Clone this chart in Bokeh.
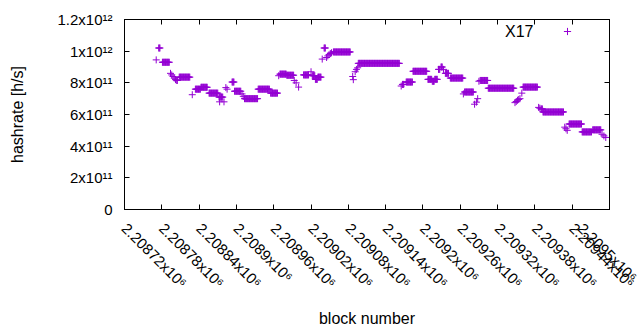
import numpy as np
from bokeh.plotting import figure
from bokeh.models import (Range1d, FixedTicker, LinearAxis, CustomJSTickFormatter,
                          Label, Legend, LegendItem, ColumnDataSource)
from bokeh.embed import file_html
from bokeh.resources import INLINE

# ---- data: runs of blocks with the same hashrate (start block, end block, value) ----
run_start = [2208771, 2208775, 2208781, 2208794, 2208796, 2208798, 2208800, 2208802, 2208804, 2208808,
             2208829, 2208834, 2208843, 2208856, 2208872, 2208873, 2208880, 2208883, 2208885, 2208893,
             2208897, 2208909, 2208911, 2208913, 2208935, 2208955, 2208968, 2208970, 2208981, 2208993,
             2208996, 2209000, 2209008, 2209020, 2209022, 2209027, 2209031, 2209038, 2209041, 2209045,
             2209047, 2209049, 2209051, 2209053, 2209056, 2209087, 2209088, 2209091, 2209093, 2209095,
             2209096, 2209165, 2209167, 2209173, 2209184, 2209208, 2209215, 2209219, 2209225, 2209229,
             2209233, 2209236, 2209244, 2209265, 2209267, 2209283, 2209286, 2209288, 2209290, 2209292,
             2209305, 2209348, 2209350, 2209352, 2209354, 2209356, 2209359, 2209361, 2209386, 2209388,
             2209390, 2209393, 2209428, 2209430, 2209432, 2209435, 2209456, 2209473, 2209488, 2209491,
             2209494]
run_end = [2208771, 2208777, 2208792, 2208794, 2208796, 2208798, 2208800, 2208802, 2208805, 2208825,
           2208829, 2208842, 2208853, 2208870, 2208878, 2208873, 2208880, 2208883, 2208885, 2208896,
           2208907, 2208909, 2208911, 2208934, 2208953, 2208966, 2208968, 2208980, 2208992, 2208993,
           2208996, 2209000, 2209016, 2209020, 2209026, 2209030, 2209036, 2209038, 2209043, 2209045,
           2209047, 2209049, 2209051, 2209053, 2209083, 2209087, 2209088, 2209091, 2209093, 2209095,
           2209162, 2209165, 2209169, 2209183, 2209206, 2209214, 2209218, 2209223, 2209227, 2209231,
           2209233, 2209241, 2209264, 2209265, 2209281, 2209283, 2209286, 2209288, 2209290, 2209304,
           2209346, 2209348, 2209350, 2209352, 2209354, 2209356, 2209359, 2209384, 2209386, 2209388,
           2209392, 2209426, 2209428, 2209430, 2209432, 2209455, 2209471, 2209486, 2209488, 2209491,
           2209494]
run_value = [9.45e11, 1.02e12, 9.30e11, 8.60e11, 8.50e11, 8.40e11, 8.30e11, 8.20e11, 8.15e11, 8.36e11,
             7.25e11, 7.60e11, 7.72e11, 7.35e11, 7.10e11, 6.80e11, 6.80e11, 7.70e11, 7.60e11, 8.05e11,
             7.47e11, 7.30e11, 7.15e11, 7.00e11, 7.60e11, 7.35e11, 8.45e11, 8.55e11, 8.48e11, 8.15e11,
             8.00e11, 7.73e11, 8.50e11, 8.70e11, 8.45e11, 8.22e11, 8.36e11, 9.50e11, 1.02e12, 9.60e11,
             9.70e11, 9.78e11, 9.85e11, 9.90e11, 9.95e11, 8.40e11, 8.20e11, 8.70e11, 8.85e11, 8.95e11,
             9.23e11, 7.80e11, 7.90e11, 8.05e11, 8.73e11, 8.22e11, 8.10e11, 8.22e11, 8.85e11, 9.00e11,
             8.85e11, 8.60e11, 8.30e11, 7.30e11, 7.42e11, 6.65e11, 6.78e11, 7.00e11, 8.10e11, 8.15e11,
             7.66e11, 6.75e11, 6.82e11, 6.90e11, 6.95e11, 7.00e11, 7.35e11, 7.73e11, 6.45e11, 6.40e11,
             6.35e11, 6.16e11, 5.20e11, 5.10e11, 5.00e11, 5.40e11, 4.90e11, 5.03e11, 4.75e11, 4.65e11,
             4.55e11]

x_ticks = [2208720, 2208780, 2208840, 2208900, 2208960, 2209020, 2209080,
           2209140, 2209200, 2209260, 2209320, 2209380, 2209440, 2209500]
x_tick_labels = ["2.20872x10\u2076", "2.20878x10\u2076", "2.20884x10\u2076", "2.2089x10\u2076",
                 "2.20896x10\u2076", "2.20902x10\u2076", "2.20908x10\u2076", "2.20914x10\u2076",
                 "2.2092x10\u2076", "2.20926x10\u2076", "2.20932x10\u2076", "2.20938x10\u2076",
                 "2.20944x10\u2076", "2.2095x10\u2076"]
y_ticks = [0, 2e11, 4e11, 6e11, 8e11, 1e12, 1.2e12]
y_tick_labels = ["0", "2x10\u00b9\u00b9", "4x10\u00b9\u00b9", "6x10\u00b9\u00b9", "8x10\u00b9\u00b9",
                 "1x10\u00b9\u00b2", "1.2x10\u00b9\u00b2"]
series_name = "X17"

# expand runs into one point per block
blocks, rates = [], []
for s, e, v in zip(run_start, run_end, run_value):
    for b in range(s, e + 1):
        blocks.append(b)
        rates.append(v)
src = ColumnDataSource(dict(block=blocks, rate=rates))

FONT = "Liberation Sans"
PURPLE = "#9400D3"

p = figure(width=640, height=330, output_backend="svg", toolbar_location=None,
           x_range=Range1d(x_ticks[0], x_ticks[-1]), y_range=Range1d(y_ticks[0], y_ticks[-1]),
           min_border_left=124, min_border_right=31, min_border_top=19, min_border_bottom=120,
           x_axis_label="block number", y_axis_label="hashrate [h/s]")
p.grid.visible = False
p.outline_line_color = "black"
p.outline_line_width = 1
p.background_fill_color = "white"
p.border_fill_color = "white"

r = p.scatter("block", "rate", source=src, marker="cross", size=7, line_width=1,
              line_color=PURPLE)

for ax in (p.xaxis[0], p.yaxis[0]):
    ax.axis_line_color = "black"
    ax.major_tick_line_color = "black"
    ax.major_tick_in = 5
    ax.major_tick_out = 0
    ax.minor_tick_line_color = None
    ax.major_label_text_font = FONT
    ax.major_label_text_font_size = "15px"
    ax.major_label_text_color = "black"
    ax.axis_label_text_font = FONT
    ax.axis_label_text_font_size = "16px"
    ax.axis_label_text_font_style = "normal"
    ax.axis_label_text_color = "black"

p.xaxis[0].ticker = FixedTicker(ticks=x_ticks)
p.xaxis[0].major_label_overrides = dict(zip(x_ticks, x_tick_labels))
p.xaxis[0].major_label_orientation = -np.pi / 4
p.xaxis[0].major_label_standoff = 16
p.xaxis[0].axis_label_standoff = 10

p.yaxis[0].ticker = FixedTicker(ticks=y_ticks)
p.yaxis[0].major_label_overrides = dict(zip(y_ticks, y_tick_labels))
p.yaxis[0].major_label_standoff = 12
p.yaxis[0].axis_label_standoff = 28

# mirrored ticks on top and right
blank = CustomJSTickFormatter(code="return ''")
top = LinearAxis(ticker=FixedTicker(ticks=x_ticks), formatter=blank, major_tick_in=5,
                 major_tick_out=0, minor_tick_line_color=None, major_label_standoff=0,
                 major_label_text_font_size="1px", axis_line_color="black")
right = LinearAxis(ticker=FixedTicker(ticks=y_ticks), formatter=blank, major_tick_in=5,
                   major_tick_out=0, minor_tick_line_color=None, major_label_standoff=0,
                   major_label_text_font_size="1px", axis_line_color="black")
p.add_layout(top, "above")
p.add_layout(right, "right")

# key: title text then sample marker, gnuplot style
p.add_layout(Label(x=409, y=178, x_units="screen", y_units="screen", text=series_name,
                   text_font=FONT, text_font_size="16px", text_align="right",
                   text_baseline="middle", text_color="black"))
leg = Legend(items=[LegendItem(label=" ", renderers=[r])], location=(434, 169),
             glyph_width=18, glyph_height=18, label_width=0, label_standoff=0,
             label_text_font_size="1px", padding=0, margin=0, spacing=0,
             border_line_color=None, background_fill_alpha=0)
p.add_layout(leg, "center")

open("out.html", "w").write(file_html(p, INLINE))
